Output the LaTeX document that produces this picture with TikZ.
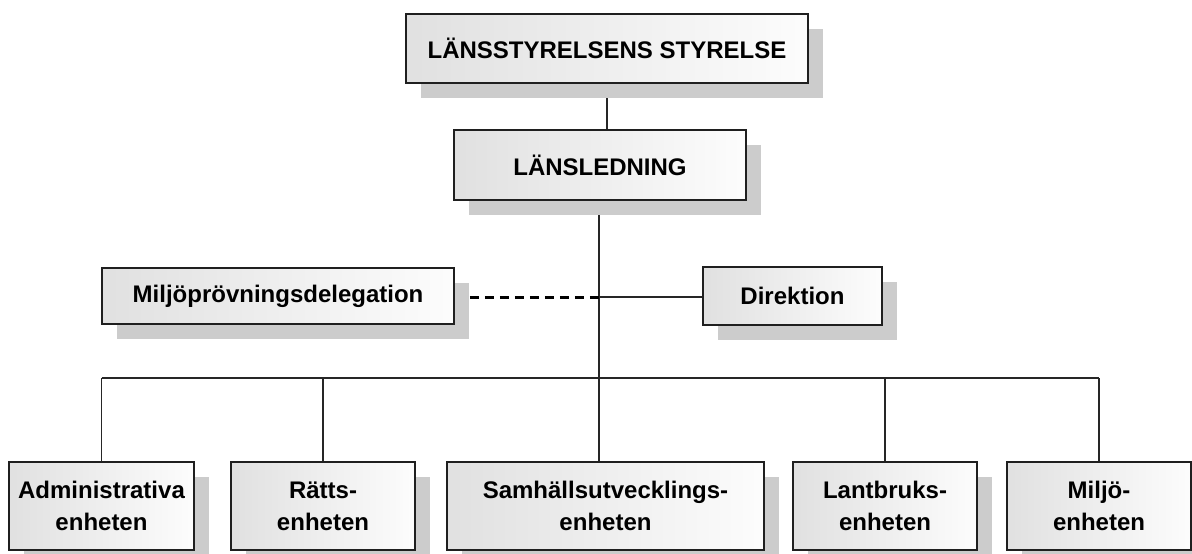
\documentclass[tikz,border=0pt]{standalone}
\usepackage{fontspec}
\setmainfont{Liberation Sans}
\usetikzlibrary{shadows,backgrounds}
\begin{document}
\begin{tikzpicture}[x=1pt,y=-1pt,
  box/.style={draw=black!88, line width=1.8pt, left color=gray!24, right color=gray!2,
    general shadow={fill=gray!40, shadow xshift=15pt, shadow yshift=-15pt},
    font=\fontsize{24}{32}\selectfont\bfseries, align=center, inner sep=0pt},
  conn/.style={line width=1.9pt, draw=black!85},
  dashconn/.style={line width=3pt, draw=black, dash pattern=on 9pt off 6pt}]
\useasboundingbox (0,0) rectangle (1192,554);

\node[box, minimum width=402pt, minimum height=69pt] (top) at (607,48.5) {LÄNSSTYRELSENS STYRELSE};
\node[box, minimum width=292pt, minimum height=70pt] (led) at (600,165) {LÄNSLEDNING};
\node[box, minimum width=352pt, minimum height=56pt] (del) at (278,296) {Miljöprövningsdelegation};
\node[box, minimum width=179pt, minimum height=58pt] (dir) at (792.5,296) {Direktion};

\node[box, minimum width=185pt, minimum height=88pt] (b1) at (101.5,506) {Administrativa\\enheten};
\node[box, minimum width=184pt, minimum height=88pt] (b2) at (323,506) {Rätts-\\enheten};
\node[box, minimum width=317pt, minimum height=88pt] (b3) at (605.5,506) {Samhällsutvecklings-\\enheten};
\node[box, minimum width=184pt, minimum height=88pt] (b4) at (885,506) {Lantbruks-\\enheten};
\node[box, minimum width=184pt, minimum height=88pt] (b5) at (1099,506) {Miljö-\\enheten};

\coordinate (bus) at (599,378);
\coordinate (mid) at (599,297);

\begin{scope}[on background layer]
  \fill[white] (0,0) rectangle (1192,554);
  \draw[conn] (top.south) -- (top.south |- led.north);
  \draw[conn] (led.south -| bus) -- (bus |- b3.north);
  \draw[dashconn] (del.east |- mid) -- (mid);
  \draw[conn] (mid) -- (dir.west |- mid);
  \draw[conn] (b1.north |- bus) -- (b5.north |- bus);
  \draw[conn] (b1.north |- bus) -- (b1.north);
  \draw[conn] (b2.north |- bus) -- (b2.north);
  \draw[conn] (b4.north |- bus) -- (b4.north);
  \draw[conn] (b5.north |- bus) -- (b5.north);
\end{scope}
\end{tikzpicture}
\end{document}
